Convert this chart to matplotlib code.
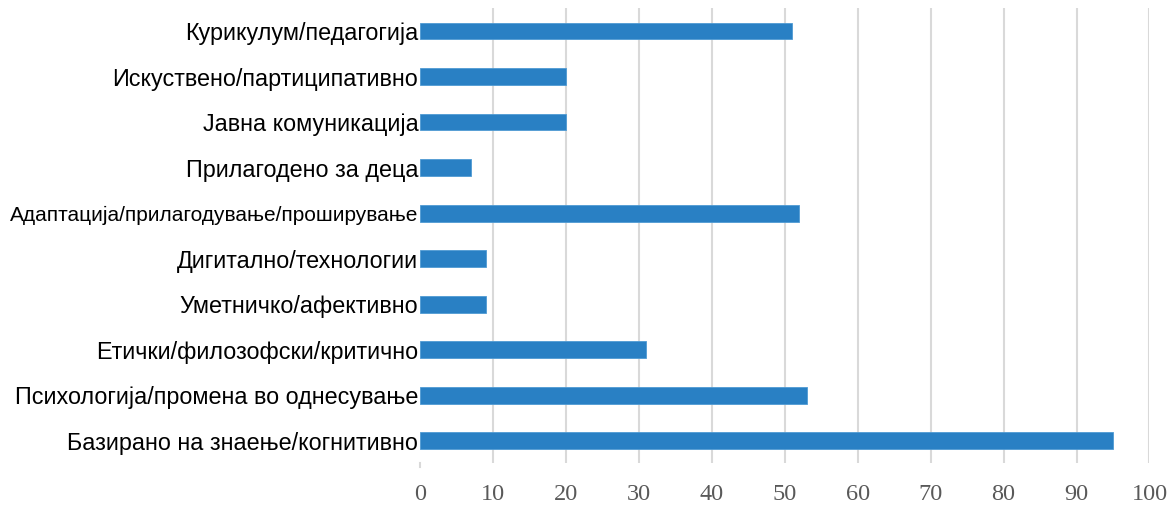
import matplotlib.pyplot as plt

# категории (од долу нагоре)
categories = [
    'Базирано на знаење/когнитивно',
    'Психологија/промена во однесување',
    'Етички/филозофски/критично',
    'Уметничко/афективно',
    'Дигитално/технологии',
    'Адаптација/прилагодување/проширување',
    'Прилагодено за деца',
    'Јавна комуникација',
    'Искуствено/партиципативно',
    'Курикулум/педагогија',
]
values = [95, 53, 31, 9, 9, 52, 7, 20, 20, 51]
x_ticks = list(range(0, 101, 10))

fig = plt.figure(figsize=(11.73, 5.07), dpi=100)
ax = fig.add_axes([0.3584, 0.0858, 0.6215, 0.898])

ax.barh(range(len(categories)), values, height=0.37, color='#2980c4',
        edgecolor='#4f9bd3', linewidth=0.6, zorder=3)

ax.set_xlim(0, 100)
ax.set_ylim(-0.5, len(categories) - 0.5)
ax.set_xticks(x_ticks)
ax.set_xticklabels([str(t) for t in x_ticks], family='Liberation Serif',
                   fontsize=17.5, color='#595959')
ax.set_yticks(range(len(categories)))
ax.set_yticklabels(categories, family='Liberation Sans', fontsize=16.8,
                   color='black')
# најдолгата ознака е малку помала
ax.get_yticklabels()[5].set_fontsize(15)

for t in x_ticks[1:]:
    ax.axvline(t, color='#d9d9d9', linewidth=1.5, zorder=1)

for s in ax.spines.values():
    s.set_visible(False)
ax.tick_params(axis='y', length=0, pad=1.5)
ax.tick_params(axis='x', length=0, pad=15)
# мала ознака на нулата
ax.plot([0, 0], [-0.5, -0.58], color='#d9d9d9', linewidth=1.5,
        clip_on=False, zorder=1)

fig.savefig('out.png', dpi=100)
